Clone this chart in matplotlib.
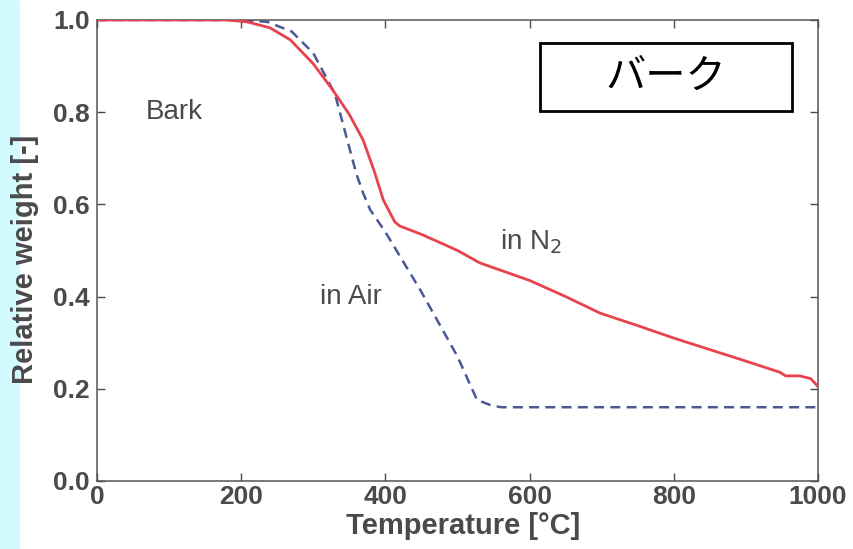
import matplotlib
matplotlib.use("Agg")
import matplotlib.pyplot as plt
from matplotlib.patches import Rectangle
import numpy as np

# N2 curve (red, solid)
t_n2 = [0, 100, 180, 208, 240, 268, 300, 327, 350, 369, 385, 397, 407, 413, 420, 450, 500, 531, 600, 650, 698, 750, 800, 850, 900, 947, 955, 975, 990, 1000]
w_n2 = [1.0, 1.0, 1.0, 0.996, 0.983, 0.957, 0.905, 0.848, 0.795, 0.74, 0.67, 0.61, 0.58, 0.562, 0.553, 0.535, 0.50, 0.473, 0.435, 0.40, 0.364, 0.337, 0.31, 0.285, 0.26, 0.236, 0.228, 0.228, 0.222, 0.205]

# Air curve (blue, dashed)
t_air = [0, 100, 200, 236, 270, 300, 330, 347, 360, 369, 379, 400, 450, 500, 527, 545, 560, 700, 1000]
w_air = [1.0, 1.0, 1.0, 0.996, 0.975, 0.928, 0.84, 0.74, 0.665, 0.625, 0.588, 0.54, 0.41, 0.27, 0.176, 0.165, 0.16, 0.16, 0.16]

x_ticks = [0, 200, 400, 600, 800, 1000]
y_ticks = [0.0, 0.2, 0.4, 0.6, 0.8, 1.0]

plt.rcParams["font.family"] = ["Liberation Sans", "DejaVu Sans"]

fig = plt.figure(figsize=(8.54, 5.49), dpi=100)
fig.patches.append(Rectangle((0, 0), 0.022, 1, transform=fig.transFigure,
                             color="#d2fbff", zorder=0))
ax = fig.add_axes([0.1136, 0.1239, 0.8442, 0.8397])

grey = "#4a4a4a"
ax.plot(t_n2, w_n2, color="#e8434c", lw=2.0, zorder=3)
ax.plot(t_air, w_air, color="#4b5897", lw=1.8, ls=(0, (4, 2.5)), zorder=2)

ax.set_xlim(0, 1000)
ax.set_ylim(0, 1.0)
ax.set_xticks(x_ticks)
ax.set_yticks(y_ticks)
ax.set_xticklabels([str(v) for v in x_ticks])
ax.set_yticklabels([f"{v:.1f}" for v in y_ticks])
ax.tick_params(direction="in", top=True, right=True, length=6, width=1,
               color=grey, labelsize=19, labelcolor=grey)
ax.tick_params(axis="x", pad=3)
ax.tick_params(axis="y", pad=5)
for lab in ax.get_xticklabels() + ax.get_yticklabels():
    lab.set_fontweight("bold")
for s in ax.spines.values():
    s.set_color("#555555")
    s.set_linewidth(1.1)

fig.text(463 / 854, 1 - 526 / 549, "Temperature [°C]", fontsize=21, fontweight="bold",
         color=grey, ha="center", va="center")
fig.text(25 / 854, 1 - 259 / 549, "Relative weight [-]", fontsize=21, fontweight="bold",
         color=grey, ha="center", va="center", rotation=90)

ax.text(67, 0.80, "Bark", fontsize=20, color=grey, va="center", ha="left")
ax.text(309, 0.40, "in Air", fontsize=20, color=grey, va="center", ha="left")
ax.text(559, 0.52, "in N$_2$", fontsize=20, color=grey, va="center", ha="left")

ax.text(789, 0.876, "バーク", fontsize=29, color="black", ha="center", va="center",
        family=["Noto Sans CJK JP", "DejaVu Sans"], zorder=5)
ax.add_patch(Rectangle((614, 0.802), 350, 0.148, fill=False, edgecolor="black",
                       lw=2, zorder=5))

fig.savefig("out.png", dpi=100)
